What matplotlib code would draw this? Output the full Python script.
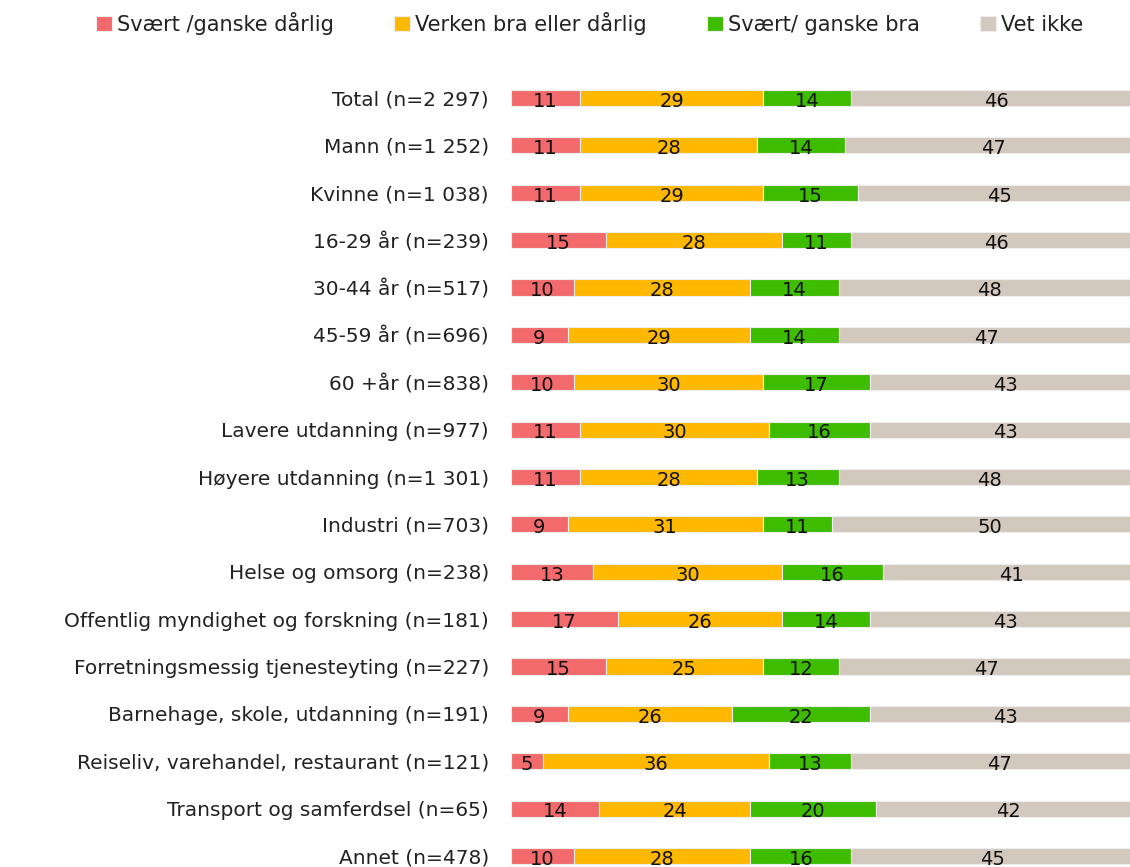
import numpy as np
import matplotlib.pyplot as plt

categories = ["Total (n=2 297)", "Mann (n=1 252)", "Kvinne (n=1 038)", "16-29 år (n=239)",
              "30-44 år (n=517)", "45-59 år (n=696)", "60 +år (n=838)",
              "Lavere utdanning (n=977)", "Høyere utdanning (n=1 301)", "Industri (n=703)",
              "Helse og omsorg (n=238)", "Offentlig myndighet og forskning (n=181)",
              "Forretningsmessig tjenesteyting (n=227)", "Barnehage, skole, utdanning (n=191)",
              "Reiseliv, varehandel, restaurant (n=121)", "Transport og samferdsel (n=65)",
              "Annet (n=478)"]
series = ["Svært /ganske dårlig", "Verken bra eller dårlig", "Svært/ ganske bra", "Vet ikke"]
darlig = [11, 11, 11, 15, 10, 9, 10, 11, 11, 9, 13, 17, 15, 9, 5, 14, 10]
verken = [29, 28, 29, 28, 28, 29, 30, 30, 28, 31, 30, 26, 25, 26, 36, 24, 28]
bra = [14, 14, 15, 11, 14, 14, 17, 16, 13, 11, 16, 14, 12, 22, 13, 20, 16]
vet_ikke = [46, 47, 45, 46, 48, 47, 43, 43, 48, 50, 41, 43, 47, 43, 47, 42, 45]
colors = ["#F26A6B", "#FFB800", "#3EBC00", "#D3C8BD"]

plt.rcParams['font.family'] = ['DejaVu Sans']

fig = plt.figure(figsize=(11.3, 8.67), dpi=100)
ax = fig.add_axes([511 / 1130, -0.0147, 630 / 1130, 0.9290])

y = np.arange(len(categories))
left = np.zeros(len(categories))
for name, vals, col in zip(series, [darlig, verken, bra, vet_ikke], colors):
    vals = np.array(vals, dtype=float)
    ax.barh(y, vals, left=left, height=0.34, color=col, edgecolor="#EDEDED",
            linewidth=0.8, label=name)
    for yi, l, v in zip(y, left, vals):
        ax.text(l + v / 2, yi + 0.07, f"{int(v)}", ha="center", va="center",
                fontsize=14, color="#111111")
    left += vals

ax.set_xlim(0, 100)
ax.set_ylim(len(categories) - 0.5, -0.5)
ax.set_yticks(y)
ax.set_yticklabels(categories, fontsize=14.5, color="#222222")
ax.tick_params(axis="y", length=0, pad=16)
ax.set_xticks([])
for s in ax.spines.values():
    s.set_visible(False)

fig.legend(loc="upper center", bbox_to_anchor=(0.522, 1.008), ncol=4, frameon=False,
           fontsize=15, handlelength=0.75, handleheight=0.75, handletextpad=0.25,
           columnspacing=2.9, labelcolor="#222222")

fig.savefig("out.png", dpi=100)
